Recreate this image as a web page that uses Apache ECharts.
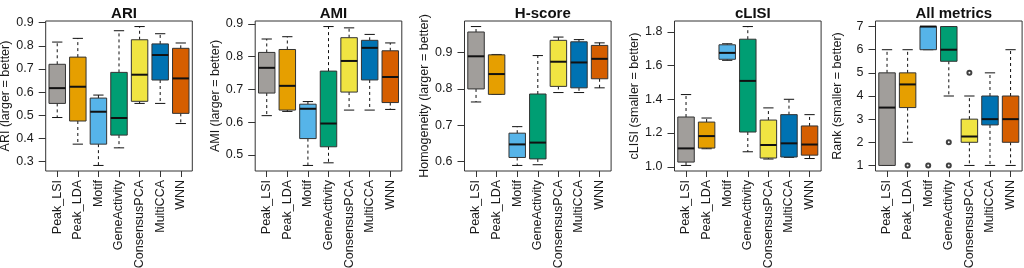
<!DOCTYPE html>
<html>
<head>
<meta charset="utf-8">
<script src="https://cdn.jsdelivr.net/npm/echarts@6/dist/echarts.min.js"></script>
<style>
  html, body { margin: 0; padding: 0; background: #fff; }
  #chart { width: 1024px; height: 268px; }
</style>
</head>
<body>
<div id="chart"></div>
<script>
const methods = ['Peak_LSI', 'Peak_LDA', 'Motif', 'GeneActivity', 'ConsensusPCA', 'MultiCCA', 'WNN'];
const methodColors = ['#a19e9b', '#e69f00', '#56b4e9', '#009e73', '#f0e442', '#0072b2', '#d55e00'];

// each row: [lower whisker, Q1, median, Q3, upper whisker]
const ariBoxes = [
  [0.490, 0.551, 0.617, 0.720, 0.816],
  [0.375, 0.475, 0.623, 0.751, 0.832],
  [0.283, 0.375, 0.515, 0.574, 0.587],
  [0.359, 0.414, 0.488, 0.685, 0.865],
  [0.551, 0.560, 0.675, 0.826, 0.883],
  [0.551, 0.652, 0.760, 0.808, 0.852],
  [0.464, 0.508, 0.659, 0.789, 0.812]
];
const amiBoxes = [
  [0.620, 0.689, 0.766, 0.813, 0.854],
  [0.633, 0.637, 0.711, 0.822, 0.861],
  [0.468, 0.550, 0.641, 0.655, 0.663],
  [0.476, 0.525, 0.596, 0.756, 0.892],
  [0.637, 0.692, 0.787, 0.858, 0.888],
  [0.637, 0.729, 0.827, 0.850, 0.868],
  [0.639, 0.660, 0.738, 0.818, 0.842]
];
const hscoreBoxes = [
  [0.764, 0.800, 0.890, 0.957, 0.972],
  [0.785, 0.785, 0.841, 0.894, 0.895],
  [0.589, 0.611, 0.647, 0.678, 0.696],
  [0.591, 0.607, 0.652, 0.786, 0.892],
  [0.790, 0.807, 0.875, 0.934, 0.943],
  [0.790, 0.803, 0.873, 0.930, 0.936],
  [0.803, 0.828, 0.883, 0.920, 0.927]
];
const clisiBoxes = [
  [1.008, 1.028, 1.109, 1.295, 1.428],
  [1.107, 1.111, 1.182, 1.265, 1.289],
  [1.631, 1.637, 1.675, 1.723, 1.729],
  [1.089, 1.206, 1.509, 1.756, 1.831],
  [1.046, 1.052, 1.129, 1.277, 1.349],
  [1.056, 1.058, 1.139, 1.309, 1.400],
  [1.049, 1.069, 1.132, 1.242, 1.309]
];
const rankBoxes = [
  [1, 1, 3.5, 5, 6],
  [2, 3.5, 4.5, 5, 6],
  [6, 6, 7, 7, 7],
  [4, 5.5, 6, 7, 7],
  [1, 2, 2.25, 3, 4],
  [1, 2.75, 3, 4, 5],
  [1, 2, 3, 4, 6]
];
// [method position, value]
const rankOutliers = [[2, 1], [3, 1], [4, 2], [4, 1], [5, 5]];

// y tick labels per panel
const ariTicks = [0.3, 0.4, 0.5, 0.6, 0.7, 0.8, 0.9];
const amiTicks = [0.5, 0.6, 0.7, 0.8, 0.9];
const hscoreTicks = [0.6, 0.7, 0.8, 0.9];
const clisiTicks = [1.0, 1.2, 1.4, 1.6, 1.8];
const rankTicks = [1, 2, 3, 4, 5, 6, 7];
const xTicks = [1, 2, 3, 4, 5, 6, 7];

const panels = [
  {title: 'ARI', yName: 'ARI (larger = better)', boxes: ariBoxes, outliers: [], ticks: ariTicks, dec: 1, left: 45.7},
  {title: 'AMI', yName: 'AMI (larger = better)', boxes: amiBoxes, outliers: [], ticks: amiTicks, dec: 1, left: 255.2},
  {title: 'H-score', yName: 'Homogeneity (larger = better)', boxes: hscoreBoxes, outliers: [], ticks: hscoreTicks, dec: 1, left: 464.5},
  {title: 'cLISI', yName: 'cLISI (smaller = better)', boxes: clisiBoxes, outliers: [], ticks: clisiTicks, dec: 1, left: 674.5},
  {title: 'All metrics', yName: 'Rank (smaller = better)', boxes: rankBoxes, outliers: rankOutliers, ticks: rankTicks, dec: 0, left: 875.5}
];

const FONT = '"Liberation Sans", Arial, Helvetica, sans-serif';
const PLOT_W = 146.6, PLOT_TOP = 21, PLOT_H = 150;
const INK = '#1a1a1a';
const LABEL_SIZE = 12.5;

// R style box: dashed whiskers, short staples, thick median
function renderBox(params, api) {
  const x = api.value(0);
  const lo = api.coord([x, api.value(1)]);
  const q1 = api.coord([x, api.value(2)]);
  const med = api.coord([x, api.value(3)]);
  const q3 = api.coord([x, api.value(4)]);
  const hi = api.coord([x, api.value(5)]);
  const half = api.size([0.8, 0])[0] / 2;
  const cap = api.size([0.5, 0])[0] / 2;
  const cx = lo[0];
  const fill = methodColors[params.dataIndex];
  const dash = {stroke: '#111', lineWidth: 1, lineDash: [3, 3]};
  const solid = {stroke: '#111', lineWidth: 1};
  return {
    type: 'group',
    children: [
      {type: 'line', shape: {x1: cx, y1: q3[1], x2: cx, y2: hi[1]}, style: dash},
      {type: 'line', shape: {x1: cx, y1: q1[1], x2: cx, y2: lo[1]}, style: dash},
      {type: 'line', shape: {x1: cx - cap, y1: hi[1], x2: cx + cap, y2: hi[1]}, style: solid},
      {type: 'line', shape: {x1: cx - cap, y1: lo[1], x2: cx + cap, y2: lo[1]}, style: solid},
      {type: 'rect', shape: {x: cx - half, y: q3[1], width: half * 2, height: q1[1] - q3[1]},
        style: {fill: fill, stroke: '#333', lineWidth: 1}},
      {type: 'line', shape: {x1: cx - half, y1: med[1], x2: cx + half, y2: med[1]},
        style: {stroke: '#111', lineWidth: 2}}
    ]
  };
}

const chart = echarts.init(document.getElementById('chart'), null, {renderer: 'canvas'});

let option = {
  backgroundColor: '#fff',
  animation: false,
  textStyle: {fontFamily: FONT},
  title: [],
  grid: [],
  xAxis: [],
  yAxis: [],
  series: []
};

panels.forEach(function (p, k) {
  // axis range: data range padded by 4% like base R
  const vals = [];
  p.boxes.forEach(function (b) { vals.push(b[0], b[4]); });
  p.outliers.forEach(function (o) { vals.push(o[1]); });
  const lo = Math.min.apply(null, vals), hi = Math.max.apply(null, vals);
  const pad = (hi - lo) * 0.04;

  option.title.push({
    text: p.title,
    left: p.left + PLOT_W / 2,
    top: 1,
    textAlign: 'center',
    textStyle: {fontFamily: FONT, fontSize: 15, fontWeight: 'bold', color: '#111'}
  });
  option.grid.push({
    left: p.left, top: PLOT_TOP, width: PLOT_W, height: PLOT_H,
    outerBoundsMode: 'none', containLabel: false,
    show: true, borderColor: '#333', borderWidth: 1, backgroundColor: 'transparent'
  });
  option.xAxis.push({
    gridIndex: k, type: 'value', min: 0.44, max: 7.56,
    axisLine: {show: false},
    splitLine: {show: false},
    axisTick: {show: true, length: 6, customValues: xTicks, lineStyle: {color: '#333'}},
    axisLabel: {
      customValues: xTicks, rotate: 90, margin: 9,
      fontFamily: FONT, fontSize: LABEL_SIZE, color: INK,
      formatter: function (v) { return methods[Math.round(v) - 1]; }
    }
  });
  option.yAxis.push({
    gridIndex: k, type: 'value', min: lo - pad, max: hi + pad,
    name: p.yName, nameLocation: 'middle', nameGap: 31,
    nameTextStyle: {fontFamily: FONT, fontSize: LABEL_SIZE, color: INK},
    axisLine: {show: false},
    splitLine: {show: false},
    axisTick: {show: true, length: 7, customValues: p.ticks, lineStyle: {color: '#333'}},
    axisLabel: {
      customValues: p.ticks, margin: 12,
      fontFamily: FONT, fontSize: LABEL_SIZE, color: INK,
      formatter: function (v) { return v.toFixed(p.dec); }
    }
  });
  option.series.push({
    type: 'custom',
    xAxisIndex: k, yAxisIndex: k,
    renderItem: renderBox,
    encode: {x: 0, y: [1, 2, 3, 4, 5]},
    data: p.boxes.map(function (b, i) { return [i + 1].concat(b); }),
    z: 2
  });
  if (p.outliers.length) {
    option.series.push({
      type: 'scatter',
      xAxisIndex: k, yAxisIndex: k,
      symbol: 'emptyCircle', symbolSize: 4,
      itemStyle: {color: '#111', borderColor: '#111', borderWidth: 1},
      data: p.outliers,
      z: 3
    });
  }
});

chart.setOption(option);
window.addEventListener('resize', function () {
  chart.resize();
});
</script>
</body>
</html>
